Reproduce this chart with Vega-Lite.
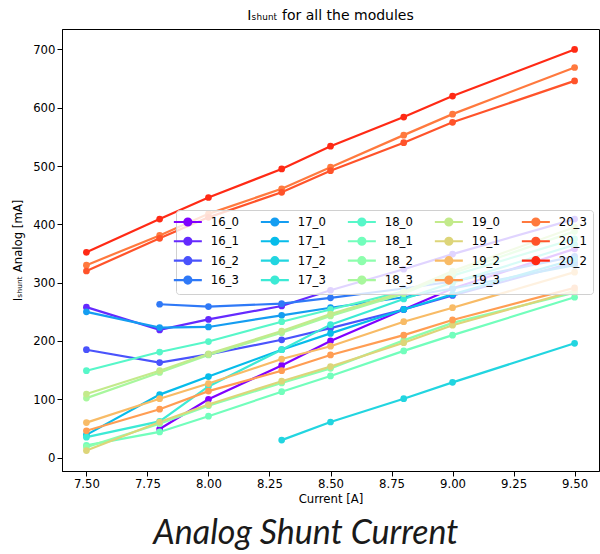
{
  "$schema": "https://vega.github.io/schema/vega-lite/v6.json",
  "padding": {"left": 12, "top": 8, "right": 0, "bottom": 0},
  "background": "white",
  "config": {
    "font": "DejaVu Sans",
    "view": {"stroke": "black", "strokeWidth": 1},
    "axis": {"domainColor": "black", "tickColor": "black", "labelColor": "black", "titleColor": "black", "labelFontSize": 11.7, "titleFontSize": 11.7, "titleFontWeight": "normal", "grid": false, "tickSize": 5, "labelPadding": 2, "labelFont": "DejaVu Sans", "titleFont": "DejaVu Sans"}
  },
  "title": {"text": "Analog Shunt Current", "orient": "bottom", "anchor": "middle", "font": "Lato", "fontStyle": "italic", "fontWeight": "normal", "fontSize": 34, "color": "#1a1a1a", "offset": 11},
  "vconcat": [
    {
      "title": {"text": "Iₛₕᵤₙₜ for all the modules", "font": "DejaVu Sans", "fontSize": 14, "fontWeight": "normal", "offset": 6, "color": "black", "frame": "group", "anchor": "middle"},
      "width": 537,
      "height": 442,
      "data": {"values": [
        {"module": "16_0", "current": 7.8, "ishunt": 49},
        {"module": "16_0", "current": 8.0, "ishunt": 100},
        {"module": "16_0", "current": 8.3, "ishunt": 158},
        {"module": "16_0", "current": 8.5, "ishunt": 200},
        {"module": "16_0", "current": 8.8, "ishunt": 254},
        {"module": "16_0", "current": 9.0, "ishunt": 290},
        {"module": "16_0", "current": 9.5, "ishunt": 358},
        {"module": "16_1", "current": 7.5, "ishunt": 258},
        {"module": "16_1", "current": 7.8, "ishunt": 219},
        {"module": "16_1", "current": 8.0, "ishunt": 237},
        {"module": "16_1", "current": 8.3, "ishunt": 260},
        {"module": "16_1", "current": 8.5, "ishunt": 287},
        {"module": "16_1", "current": 8.8, "ishunt": 323},
        {"module": "16_1", "current": 9.0, "ishunt": 349},
        {"module": "16_1", "current": 9.5, "ishunt": 409},
        {"module": "16_2", "current": 7.5, "ishunt": 185},
        {"module": "16_2", "current": 7.8, "ishunt": 163},
        {"module": "16_2", "current": 8.0, "ishunt": 177},
        {"module": "16_2", "current": 8.3, "ishunt": 202},
        {"module": "16_2", "current": 8.5, "ishunt": 222},
        {"module": "16_2", "current": 8.8, "ishunt": 254},
        {"module": "16_2", "current": 9.0, "ishunt": 278},
        {"module": "16_2", "current": 9.5, "ishunt": 335},
        {"module": "16_3", "current": 7.8, "ishunt": 263},
        {"module": "16_3", "current": 8.0, "ishunt": 259},
        {"module": "16_3", "current": 8.3, "ishunt": 264},
        {"module": "16_3", "current": 8.5, "ishunt": 274},
        {"module": "16_3", "current": 8.8, "ishunt": 290},
        {"module": "16_3", "current": 9.0, "ishunt": 302},
        {"module": "16_3", "current": 9.5, "ishunt": 345},
        {"module": "17_0", "current": 7.5, "ishunt": 250},
        {"module": "17_0", "current": 7.8, "ishunt": 223},
        {"module": "17_0", "current": 8.0, "ishunt": 224},
        {"module": "17_0", "current": 8.3, "ishunt": 244},
        {"module": "17_0", "current": 8.5, "ishunt": 257},
        {"module": "17_0", "current": 8.8, "ishunt": 275},
        {"module": "17_0", "current": 9.0, "ishunt": 290},
        {"module": "17_0", "current": 9.5, "ishunt": 330},
        {"module": "17_1", "current": 7.5, "ishunt": 39},
        {"module": "17_1", "current": 7.8, "ishunt": 108},
        {"module": "17_1", "current": 8.0, "ishunt": 139},
        {"module": "17_1", "current": 8.3, "ishunt": 185},
        {"module": "17_1", "current": 8.5, "ishunt": 213},
        {"module": "17_1", "current": 8.8, "ishunt": 254},
        {"module": "17_1", "current": 9.0, "ishunt": 280},
        {"module": "17_1", "current": 9.5, "ishunt": 340},
        {"module": "17_2", "current": 8.3, "ishunt": 30},
        {"module": "17_2", "current": 8.5, "ishunt": 61},
        {"module": "17_2", "current": 8.8, "ishunt": 101},
        {"module": "17_2", "current": 9.0, "ishunt": 129},
        {"module": "17_2", "current": 9.5, "ishunt": 196},
        {"module": "17_3", "current": 7.5, "ishunt": 35},
        {"module": "17_3", "current": 7.8, "ishunt": 62},
        {"module": "17_3", "current": 8.0, "ishunt": 122},
        {"module": "17_3", "current": 8.3, "ishunt": 185},
        {"module": "17_3", "current": 8.5, "ishunt": 228},
        {"module": "17_3", "current": 8.8, "ishunt": 272},
        {"module": "17_3", "current": 9.0, "ishunt": 300},
        {"module": "17_3", "current": 9.5, "ishunt": 365},
        {"module": "18_0", "current": 7.5, "ishunt": 149},
        {"module": "18_0", "current": 7.8, "ishunt": 181},
        {"module": "18_0", "current": 8.0, "ishunt": 199},
        {"module": "18_0", "current": 8.3, "ishunt": 233},
        {"module": "18_0", "current": 8.5, "ishunt": 254},
        {"module": "18_0", "current": 8.8, "ishunt": 285},
        {"module": "18_0", "current": 9.0, "ishunt": 312},
        {"module": "18_0", "current": 9.5, "ishunt": 375},
        {"module": "18_1", "current": 7.5, "ishunt": 21},
        {"module": "18_1", "current": 7.8, "ishunt": 44},
        {"module": "18_1", "current": 8.0, "ishunt": 71},
        {"module": "18_1", "current": 8.3, "ishunt": 113},
        {"module": "18_1", "current": 8.5, "ishunt": 140},
        {"module": "18_1", "current": 8.8, "ishunt": 183},
        {"module": "18_1", "current": 9.0, "ishunt": 210},
        {"module": "18_1", "current": 9.5, "ishunt": 275},
        {"module": "18_2", "current": 7.5, "ishunt": 18},
        {"module": "18_2", "current": 7.8, "ishunt": 58},
        {"module": "18_2", "current": 8.0, "ishunt": 89},
        {"module": "18_2", "current": 8.3, "ishunt": 128},
        {"module": "18_2", "current": 8.5, "ishunt": 153},
        {"module": "18_2", "current": 8.8, "ishunt": 201},
        {"module": "18_2", "current": 9.0, "ishunt": 231},
        {"module": "18_2", "current": 9.5, "ishunt": 283},
        {"module": "18_3", "current": 7.5, "ishunt": 102},
        {"module": "18_3", "current": 7.8, "ishunt": 146},
        {"module": "18_3", "current": 8.0, "ishunt": 176},
        {"module": "18_3", "current": 8.3, "ishunt": 214},
        {"module": "18_3", "current": 8.5, "ishunt": 243},
        {"module": "18_3", "current": 8.8, "ishunt": 281},
        {"module": "18_3", "current": 9.0, "ishunt": 316},
        {"module": "18_3", "current": 9.5, "ishunt": 388},
        {"module": "19_0", "current": 7.5, "ishunt": 109},
        {"module": "19_0", "current": 7.8, "ishunt": 149},
        {"module": "19_0", "current": 8.0, "ishunt": 178},
        {"module": "19_0", "current": 8.3, "ishunt": 217},
        {"module": "19_0", "current": 8.5, "ishunt": 246},
        {"module": "19_0", "current": 8.8, "ishunt": 284},
        {"module": "19_0", "current": 9.0, "ishunt": 320},
        {"module": "19_0", "current": 9.5, "ishunt": 395},
        {"module": "19_1", "current": 7.5, "ishunt": 12},
        {"module": "19_1", "current": 7.8, "ishunt": 61},
        {"module": "19_1", "current": 8.0, "ishunt": 91},
        {"module": "19_1", "current": 8.3, "ishunt": 131},
        {"module": "19_1", "current": 8.5, "ishunt": 156},
        {"module": "19_1", "current": 8.8, "ishunt": 197},
        {"module": "19_1", "current": 9.0, "ishunt": 227},
        {"module": "19_1", "current": 9.5, "ishunt": 286},
        {"module": "19_2", "current": 7.5, "ishunt": 60},
        {"module": "19_2", "current": 7.8, "ishunt": 101},
        {"module": "19_2", "current": 8.0, "ishunt": 127},
        {"module": "19_2", "current": 8.3, "ishunt": 169},
        {"module": "19_2", "current": 8.5, "ishunt": 191},
        {"module": "19_2", "current": 8.8, "ishunt": 233},
        {"module": "19_2", "current": 9.0, "ishunt": 257},
        {"module": "19_2", "current": 9.5, "ishunt": 318},
        {"module": "19_3", "current": 7.5, "ishunt": 46},
        {"module": "19_3", "current": 7.8, "ishunt": 83},
        {"module": "19_3", "current": 8.0, "ishunt": 114},
        {"module": "19_3", "current": 8.3, "ishunt": 149},
        {"module": "19_3", "current": 8.5, "ishunt": 176},
        {"module": "19_3", "current": 8.8, "ishunt": 210},
        {"module": "19_3", "current": 9.0, "ishunt": 236},
        {"module": "19_3", "current": 9.5, "ishunt": 291},
        {"module": "20_3", "current": 7.5, "ishunt": 330},
        {"module": "20_3", "current": 7.8, "ishunt": 381},
        {"module": "20_3", "current": 8.0, "ishunt": 418},
        {"module": "20_3", "current": 8.3, "ishunt": 461},
        {"module": "20_3", "current": 8.5, "ishunt": 498},
        {"module": "20_3", "current": 8.8, "ishunt": 553},
        {"module": "20_3", "current": 9.0, "ishunt": 589},
        {"module": "20_3", "current": 9.5, "ishunt": 669},
        {"module": "20_1", "current": 7.5, "ishunt": 320},
        {"module": "20_1", "current": 7.8, "ishunt": 376},
        {"module": "20_1", "current": 8.0, "ishunt": 412},
        {"module": "20_1", "current": 8.3, "ishunt": 455},
        {"module": "20_1", "current": 8.5, "ishunt": 492},
        {"module": "20_1", "current": 8.8, "ishunt": 540},
        {"module": "20_1", "current": 9.0, "ishunt": 575},
        {"module": "20_1", "current": 9.5, "ishunt": 646},
        {"module": "20_2", "current": 7.5, "ishunt": 352},
        {"module": "20_2", "current": 7.8, "ishunt": 409},
        {"module": "20_2", "current": 8.0, "ishunt": 446},
        {"module": "20_2", "current": 8.3, "ishunt": 495},
        {"module": "20_2", "current": 8.5, "ishunt": 534},
        {"module": "20_2", "current": 8.8, "ishunt": 584},
        {"module": "20_2", "current": 9.0, "ishunt": 620},
        {"module": "20_2", "current": 9.5, "ishunt": 700}
      ]},
      "encoding": {
        "x": {"field": "current", "type": "quantitative", "scale": {"domain": [7.4, 9.6], "nice": false, "zero": false}, "axis": {"values": [7.5, 7.75, 8.0, 8.25, 8.5, 8.75, 9.0, 9.25, 9.5], "format": ".2f", "title": "Current [A]", "titlePadding": 4}},
        "y": {"field": "ishunt", "type": "quantitative", "scale": {"domain": [-23, 735], "nice": false, "zero": false}, "axis": {"values": [0, 100, 200, 300, 400, 500, 600, 700], "title": "Iₛₕᵤₙₜ Analog [mA]", "titlePadding": 9}},
        "color": {"field": "module", "type": "nominal",
          "scale": {
            "domain": ["16_0", "16_1", "16_2", "16_3", "17_0", "17_1", "17_2", "17_3", "18_0", "18_1", "18_2", "18_3", "19_0", "19_1", "19_2", "19_3", "20_3", "20_1", "20_2"],
            "range": ["#8000ff", "#652afe", "#4a53fc", "#2f79f7", "#149df1", "#07bcea", "#22d5e0", "#3cead5", "#57f7c9", "#72febc", "#8dfead", "#a8f79d", "#c3ea8b", "#ddd579", "#f8bb66", "#ff9d53", "#ff793e", "#ff532a", "#ff2a15"]
          }
        }
      },
      "layer": [
        {
          "mark": {"type": "line", "strokeWidth": 2.2, "clip": true},
          "encoding": {
            "color": {"field": "module", "type": "nominal",
              "legend": {"title": null, "orient": "none", "legendX": 114, "legendY": 181, "columns": 5,
                "symbolType": "M-4,0H4M1,0A1,1,0,1,1,-1,0A1,1,0,1,1,1,0Z", "symbolSize": 49, "symbolStrokeWidth": 2.2,
                "labelFontSize": 11.7, "labelFont": "DejaVu Sans", "labelColor": "black", "labelOffset": 17,
                "columnPadding": 17, "rowPadding": 2.4, "padding": 6,
                "fillColor": "rgba(255,255,255,0.8)", "strokeColor": "#d0d0d0", "cornerRadius": 3,
                "encode": {"symbols": {"update": {"fill": {"signal": "scale('color', datum.value)"}, "stroke": {"signal": "scale('color', datum.value)"}, "opacity": {"value": 1}}}}
              }
            }
          }
        },
        {
          "mark": {"type": "circle", "size": 45, "opacity": 1, "clip": true},
          "encoding": {"color": {"field": "module", "type": "nominal", "legend": null}}
        }
      ]
    }
  ]
}
